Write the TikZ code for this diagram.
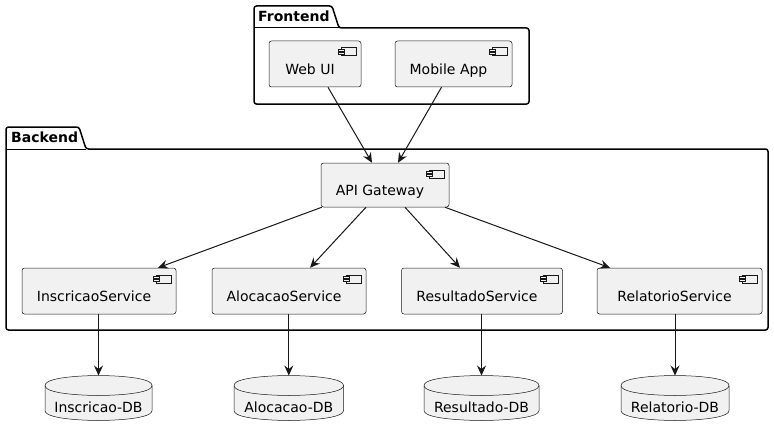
\documentclass[tikz,border=0pt]{standalone}
\usepackage{fontspec}
\setmainfont{DejaVu Sans}
\usetikzlibrary{arrows.meta}
\definecolor{boxfill}{HTML}{F1F1F1}
\definecolor{boxline}{HTML}{181818}
\tikzset{
  comp/.style={draw=boxline, fill=boxfill, line width=0.5pt, rounded corners=2.5pt,
    inner xsep=0pt, inner ysep=0pt, text height=33.5pt, text depth=12.5pt,
    font=\fontsize{14}{16}\selectfont, execute at end node={\hspace{10pt}}},
  pkgframe/.style={draw=black, line width=1.5pt, rounded corners=2.5pt},
  pkgline/.style={draw=black, line width=1pt},
  pkglabel/.style={font=\bfseries\fontsize{14}{16}\selectfont, anchor=west, inner sep=0pt},
  conn/.style={draw=boxline, line width=1pt, -{Stealth[length=10pt,width=9pt,inset=3.5pt]}},
  dbline/.style={draw=boxline, fill=boxfill, line width=0.5pt},
  dbtext/.style={font=\fontsize{14}{16}\selectfont, inner sep=0pt},
  iconline/.style={draw=boxline, fill=boxfill, line width=0.5pt},
}
\newcommand\compicon[1]{%
  \draw[iconline] ([xshift=-20pt,yshift=-7pt]#1.north east) rectangle ++(15pt,-8pt);
  \draw[iconline] ([xshift=-23pt,yshift=-8.5pt]#1.north east) rectangle ++(6pt,-2pt);
  \draw[iconline] ([xshift=-23pt,yshift=-11.5pt]#1.north east) rectangle ++(6pt,-2pt);
}
% #1 left x, #2 right x, #3 top y (height 45)
\newcommand\dbcyl[3]{%
  \draw[dbline] (#1,#3+10) .. controls (#1,#3) and ({(#1+#2)/2},#3) .. ({(#1+#2)/2},#3)
    .. controls ({(#1+#2)/2},#3) and (#2,#3) .. (#2,#3+10)
    -- (#2,#3+35) .. controls (#2,#3+45) and ({(#1+#2)/2},#3+45) .. ({(#1+#2)/2},#3+45)
    .. controls ({(#1+#2)/2},#3+45) and (#1,#3+45) .. (#1,#3+35) -- cycle;
  \draw[dbline, fill=none] (#1,#3+10) .. controls (#1,#3+20) and ({(#1+#2)/2},#3+20) .. ({(#1+#2)/2},#3+20)
    .. controls ({(#1+#2)/2},#3+20) and (#2,#3+20) .. (#2,#3+10);
}
\begin{document}
\begin{tikzpicture}[x=1pt,y=-1pt]
\useasboundingbox (0,0) rectangle (774,436);
\fill[white] (0,0) rectangle (774,436);

% Packages
\draw[pkgframe] (254,28) -- (254,6) -- (332,6) -- (339,28) -- (529,28) -- (529,104) -- (254,104) -- cycle;
\draw[pkgline] (254,28) -- (339,28);
\node[pkglabel] (fe) at (258,16.5) {Frontend};

\draw[pkgframe] (6,149) -- (6,127) -- (79,127) -- (86,149) -- (768,149) -- (768,330) -- (6,330) -- cycle;
\draw[pkgline] (6,149) -- (86,149);
\node[pkglabel] (be) at (11,137.5) {Backend};

% Components
\node[comp, minimum width=92pt] (web) at (315,64) {Web UI};
\node[comp, minimum width=117pt] (mob) at (453.5,64) {Mobile App};
\node[comp, minimum width=128pt, text height=32pt, text depth=12pt] (api) at (385,185) {API Gateway};
\node[comp, minimum width=154pt] (isvc) at (99,291) {InscricaoService};
\node[comp, minimum width=154pt] (asvc) at (289,291) {AlocacaoService};
\node[comp, minimum width=161pt] (rsvc) at (482,291) {ResultadoService};
\node[comp, minimum width=165pt] (lsvc) at (679.5,291) {RelatorioService};
\foreach \n in {web,mob,api,isvc,asvc,rsvc,lsvc} {\compicon{\n}}

% Databases
\dbcyl{45}{152}{375.5}
\dbcyl{234}{343.5}{375.5}
\dbcyl{424}{539}{375.5}
\dbcyl{621}{729}{375.5}
\node[dbtext] (idb) at (98.5,407.5) {Inscricao-DB};
\node[dbtext] (adb) at (288.8,407.5) {Alocacao-DB};
\node[dbtext] (rdb) at (481.5,407.5) {Resultado-DB};
\node[dbtext] (ldb) at (675,407.5) {Relatorio-DB};
\coordinate (idbtop) at (98.5,375.5);
\coordinate (adbtop) at (288.8,375.5);
\coordinate (rdbtop) at (481.5,375.5);
\coordinate (ldbtop) at (675,375.5);

% Connectors
\draw[conn] ([xshift=13pt]web.south) -- ([xshift=-13pt]api.north);
\draw[conn] ([xshift=-12pt]mob.south) -- ([xshift=13pt]api.north);
\draw[conn] ([xshift=1pt]api.south west) -- ([xshift=59pt]isvc.north);
\draw[conn] ([xshift=-19pt]api.south) -- ([xshift=21pt]asvc.north);
\draw[conn] ([xshift=20pt]api.south) -- ([xshift=-22pt]rsvc.north);
\draw[conn] ([xshift=60pt]api.south) -- ([xshift=-69.5pt]lsvc.north);
\draw[conn] (isvc.south -| idbtop) -- (idbtop);
\draw[conn] (asvc.south -| adbtop) -- (adbtop);
\draw[conn] (rsvc.south -| rdbtop) -- (rdbtop);
\draw[conn] (lsvc.south -| ldbtop) -- (ldbtop);
\end{tikzpicture}
\end{document}
